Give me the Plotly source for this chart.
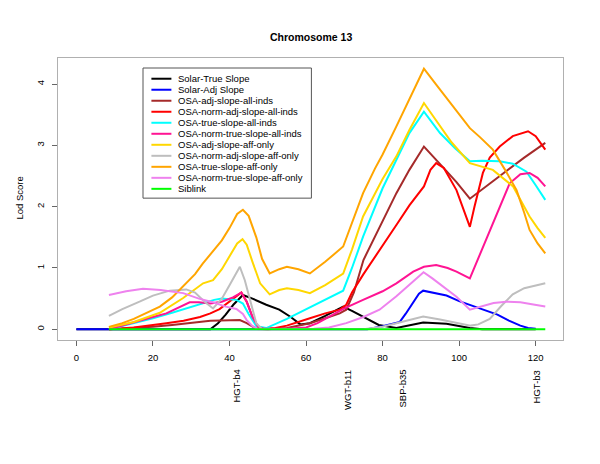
import plotly.graph_objects as go

# ---------------- data ----------------
series_names = [
    "Solar-True Slope", "Solar-Adj Slope", "OSA-adj-slope-all-inds",
    "OSA-norm-adj-slope-all-inds", "OSA-true-slope-all-inds",
    "OSA-norm-true-slope-all-inds", "OSA-adj-slope-aff-only",
    "OSA-norm-adj-slope-aff-only", "OSA-true-slope-aff-only",
    "OSA-norm-true-slope-aff-only", "Siblink",
]
series_colors = [
    "#000000", "#0000ff", "#a52a2a", "#ff0000", "#00ffff", "#ff1493",
    "#ffd700", "#bebebe", "#ffa500", "#ee82ee", "#00ff00",
]

solar_true_x = [0, 35, 37, 39, 41, 43.5, 46, 49.6, 53, 56, 58.5, 61, 65, 69.7, 72, 75, 79, 83.6, 87, 90.6, 96.7, 100, 102.8, 106, 120]
solar_true_y = [0, 0, 0.1, 0.24, 0.4, 0.56, 0.5, 0.4, 0.32, 0.2, 0.08, 0.1, 0.22, 0.37, 0.3, 0.2, 0.07, 0.02, 0.06, 0.11, 0.09, 0.05, 0.02, 0, 0]

solar_adj_x = [0, 76, 80, 84.5, 86, 88, 89.5, 90.6, 93, 96.7, 100, 102.8, 106, 110, 113, 116, 118, 120]
solar_adj_y = [0, 0, 0.05, 0.12, 0.25, 0.45, 0.58, 0.63, 0.6, 0.55, 0.46, 0.4, 0.33, 0.24, 0.14, 0.06, 0.02, 0.01]

osa_adj_all_x = [8.5, 15, 20, 25, 30, 35, 42.7, 44.5, 47, 50, 55, 61, 65, 68.8, 70.5, 72.5, 75, 80, 83.6, 87, 90.8, 96.7, 99.3, 102.8, 107, 112, 117, 122.5]
osa_adj_all_y = [0, 0.02, 0.04, 0.07, 0.1, 0.14, 0.15, 0.1, 0.01, 0, 0.02, 0.1, 0.18, 0.26, 0.32, 0.6, 1.13, 1.75, 2.22, 2.6, 2.98, 2.58, 2.4, 2.13, 2.33, 2.56, 2.8, 3.04]

osa_norm_adj_all_x = [8.5, 15, 23.5, 28, 32.3, 35, 37.4, 40.9, 43.1, 44.5, 46, 47.5, 49, 52, 55, 61, 65, 68.8, 70.5, 72, 75, 83.6, 87, 90.8, 92.5, 94, 96, 99.3, 101.9, 102.8, 104, 106.2, 108, 110.6, 114, 118, 120, 122.5]
osa_norm_adj_all_y = [0, 0.03, 0.1, 0.14, 0.2, 0.26, 0.33, 0.49, 0.6, 0.45, 0.2, 0.04, 0.01, 0.02, 0.06, 0.18, 0.26, 0.32, 0.4, 0.6, 0.9, 1.7, 2.02, 2.33, 2.6, 2.71, 2.63, 2.27, 1.8, 1.67, 2.0, 2.55, 2.8, 2.98, 3.15, 3.23, 3.15, 2.93]

osa_true_all_x = [8.5, 15, 20, 25, 30, 34, 36, 38, 41.8, 43.5, 45, 47, 49.6, 55, 60.5, 65, 69.7, 72, 74.9, 80, 83.6, 87, 90.8, 95, 99, 102.8, 106, 110.6, 114, 117.6, 120, 122.5]
osa_true_all_y = [0, 0.1, 0.18, 0.27, 0.37, 0.45, 0.48, 0.5, 0.48, 0.42, 0.25, 0.05, 0.02, 0.17, 0.34, 0.48, 0.63, 1.0, 1.51, 2.3, 2.76, 3.2, 3.55, 3.2, 2.95, 2.74, 2.75, 2.74, 2.7, 2.57, 2.35, 2.11]

osa_norm_true_all_x = [8.5, 15, 20, 23.5, 27, 29.6, 32, 35, 38, 40.9, 43.1, 44.5, 46, 47.5, 49, 55, 60, 63, 66.2, 70, 74.9, 80, 83.6, 88, 90.8, 94, 97, 99.3, 102.8, 105, 108, 111, 113.2, 116, 118.4, 120.5, 122.5]
osa_norm_true_all_y = [0, 0.12, 0.2, 0.26, 0.37, 0.44, 0.44, 0.42, 0.45, 0.52, 0.6, 0.45, 0.2, 0.04, 0.01, 0.01, 0.03, 0.1, 0.21, 0.34, 0.48, 0.62, 0.75, 0.94, 1.02, 1.05, 1.0, 0.94, 0.83, 1.16, 1.62, 2.05, 2.38, 2.53, 2.55, 2.47, 2.33]

osa_adj_aff_x = [8.5, 15, 21.8, 27.9, 33.1, 35.7, 38, 40, 42, 43.4, 44.5, 46, 48, 50.5, 53, 55, 58, 61, 65, 69.7, 72, 74.9, 80, 83.6, 87, 90.8, 95, 98, 102.8, 108.8, 114.1, 118.4, 120.5, 122.5]
osa_adj_aff_y = [0.03, 0.12, 0.27, 0.51, 0.75, 0.8, 0.98, 1.18, 1.4, 1.47, 1.38, 1.1, 0.75, 0.57, 0.64, 0.67, 0.64, 0.59, 0.72, 0.91, 1.3, 1.84, 2.45, 2.82, 3.25, 3.69, 3.32, 3.05, 2.71, 2.6, 2.33, 1.84, 1.65, 1.49]

osa_norm_adj_aff_x = [8.5, 12, 16.5, 20, 24.4, 28.7, 31, 33.5, 35.7, 38, 40, 42.7, 44, 45.5, 47, 48.5, 55, 75, 80, 85, 90.6, 95, 100, 103, 105, 108, 111, 114, 117, 120, 122.5]
osa_norm_adj_aff_y = [0.22, 0.33, 0.45, 0.55, 0.63, 0.65, 0.6, 0.45, 0.34, 0.5, 0.72, 1.02, 0.8, 0.45, 0.1, 0, 0, 0, 0.04, 0.12, 0.21, 0.16, 0.1, 0.06, 0.08, 0.17, 0.38, 0.57, 0.67, 0.72, 0.75]

osa_true_aff_x = [8.5, 12, 15, 18, 21.8, 25, 28.5, 31, 33, 35.7, 38, 40, 42, 43.5, 45, 47, 48.5, 50.5, 53, 55, 58, 61, 65, 69.7, 72, 74.9, 78, 80, 83.6, 87, 90.8, 94, 97, 100, 102.8, 105.5, 108.8, 112, 115, 117, 118.4, 120.5, 122.5]
osa_true_aff_y = [0.04, 0.1, 0.17, 0.26, 0.37, 0.52, 0.75, 0.9, 1.07, 1.27, 1.45, 1.65, 1.88, 1.95, 1.85, 1.5, 1.15, 0.91, 0.98, 1.02, 0.98, 0.91, 1.1, 1.35, 1.75, 2.22, 2.62, 2.85, 3.31, 3.75, 4.25, 3.99, 3.75, 3.5, 3.28, 3.13, 2.93, 2.6, 2.27, 1.9, 1.62, 1.4, 1.24]

osa_norm_true_aff_x = [8.5, 13, 17.4, 22, 27.9, 32, 35.7, 39, 41.8, 43.5, 44.5, 46, 47.5, 55, 62, 66, 70.5, 75, 79.2, 83.6, 87, 90.7, 93, 96, 99.3, 102.8, 106, 109, 112.3, 116, 119, 122.5]
osa_norm_true_aff_y = [0.56, 0.62, 0.66, 0.64, 0.59, 0.5, 0.44, 0.37, 0.33, 0.25, 0.15, 0.05, 0, 0, 0.01, 0.03, 0.1, 0.2, 0.32, 0.54, 0.72, 0.93, 0.83, 0.68, 0.53, 0.32, 0.38, 0.43, 0.45, 0.44, 0.41, 0.37]

siblink_x = [8.5, 122.5]
siblink_y = [0, 0]

marker_names = ["HGT-b4", "WGT-b11", "SBP-b35", "HGT-b3"]
marker_pos = [41.96, 70.7, 85.2, 120.3]

x_ticks = [0, 20, 40, 60, 80, 100, 120]
y_ticks = [0, 1, 2, 3, 4]

all_x = [solar_true_x, solar_adj_x, osa_adj_all_x, osa_norm_adj_all_x, osa_true_all_x,
         osa_norm_true_all_x, osa_adj_aff_x, osa_norm_adj_aff_x, osa_true_aff_x,
         osa_norm_true_aff_x, siblink_x]
all_y = [solar_true_y, solar_adj_y, osa_adj_all_y, osa_norm_adj_all_y, osa_true_all_y,
         osa_norm_true_all_y, osa_adj_aff_y, osa_norm_adj_aff_y, osa_true_aff_y,
         osa_norm_true_aff_y, siblink_y]

# ---------------- layout geometry (page pixels) ----------------
BODY = 8  # default page margin around the figure
W, H = 600 - 2 * BODY, 464 - 2 * BODY
PL, PR, PT, PB = 58.3, 563.3, 58.3, 340.0
FONT = "Liberation Sans, Arial, sans-serif"


def px_x(px):
    return (px - PL) / (PR - PL)


def px_y(py):
    return (PB - py) / (PB - PT)


fig = go.Figure()
for name, col, xs, ys in zip(series_names, series_colors, all_x, all_y):
    fig.add_trace(go.Scatter(x=xs, y=ys, mode="lines", name=name,
                             line=dict(color=col, width=2), showlegend=False))

shapes = []
annotations = []

# legend box
shapes.append(dict(type="rect", xref="paper", yref="paper",
                   x0=px_x(143.3), x1=px_x(311.7), y0=px_y(198.3), y1=px_y(68.3),
                   line=dict(color="#555555", width=1), fillcolor="white", layer="above"))
for i, (name, col) in enumerate(zip(series_names, series_colors)):
    yy = 79 + 11 * i
    shapes.append(dict(type="line", xref="paper", yref="paper",
                       x0=px_x(151.7), x1=px_x(171.7), y0=px_y(yy), y1=px_y(yy),
                       line=dict(color=col, width=2), layer="above"))
    annotations.append(dict(xref="paper", yref="paper", x=px_x(176), y=px_y(yy),
                            text=name, showarrow=False, xanchor="left", yanchor="middle",
                            font=dict(family=FONT, size=9.5, color="#000000")))

# marker labels under the x axis
for mname, mpos in zip(marker_names, marker_pos):
    annotations.append(dict(xref="x", yref="paper", x=mpos, y=px_y(368),
                            text=mname, showarrow=False, textangle=-90,
                            xanchor="center", yanchor="top",
                            font=dict(family=FONT, size=9.5, color="#000000")))

# title
annotations.append(dict(xref="paper", yref="paper", x=0.5, y=px_y(37),
                        text="<b>Chromosome 13</b>", showarrow=False,
                        xanchor="center", yanchor="middle",
                        font=dict(family=FONT, size=10.5, color="#000000")))
# y title
annotations.append(dict(xref="paper", yref="paper", x=px_x(20), y=px_y(198),
                        text="Lod Score", showarrow=False, textangle=-90,
                        xanchor="center", yanchor="middle",
                        font=dict(family=FONT, size=9.5, color="#000000")))

fig.update_layout(
    width=W, height=H,
    margin=dict(l=PL - BODY, r=BODY + W - PR, t=PT - BODY, b=BODY + H - PB, pad=0),
    paper_bgcolor="white", plot_bgcolor="white",
    shapes=shapes, annotations=annotations,
    font=dict(family=FONT, size=9.5, color="#000000"),
    xaxis=dict(range=[(PL - 76.7) / 3.8275, (PR - 76.7) / 3.8275],
               tickvals=x_ticks, ticktext=[str(v) for v in x_ticks],
               ticks="outside", ticklen=5, tickcolor="#666666",
               showline=True, linecolor="#b0b0b0", mirror=True,
               showgrid=False, zeroline=False, ticklabelstandoff=4,
               tickfont=dict(family=FONT, size=9.5, color="#000000")),
    yaxis=dict(range=[(329.3 - PB) / 61.25, (329.3 - PT) / 61.25],
               tickvals=y_ticks, ticktext=[str(v) for v in y_ticks],
               ticks="outside", ticklen=5, tickcolor="#666666", tickangle=-90,
               showline=True, linecolor="#b0b0b0", mirror=True,
               showgrid=False, zeroline=False, ticklabelstandoff=4,
               tickfont=dict(family=FONT, size=9.5, color="#000000")),
)

fig.write_html("out.html")
